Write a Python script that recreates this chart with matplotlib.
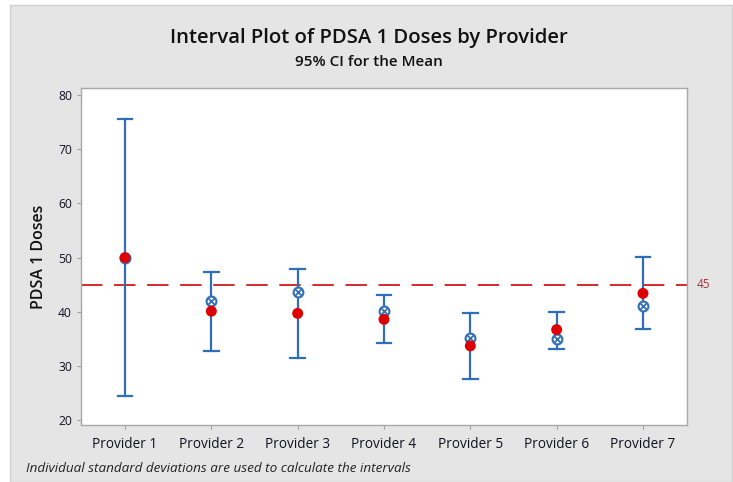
import matplotlib
matplotlib.use("Agg")
import matplotlib.pyplot as plt
from matplotlib.patches import Rectangle

# values (95% CI for the mean, PDSA 1 doses)
providers = ["Provider 1", "Provider 2", "Provider 3", "Provider 4",
             "Provider 5", "Provider 6", "Provider 7"]
ci_low = [24.5, 32.8, 31.4, 34.2, 27.5, 33.1, 36.8]
ci_high = [75.5, 47.4, 47.9, 43.1, 39.8, 40.0, 50.2]
mean_vals = [50.0, 42.0, 43.6, 40.2, 35.2, 35.0, 41.1]
red_vals = [50.0, 40.1, 39.7, 38.6, 33.7, 36.7, 43.4]
ref_line = 45
y_ticks = [20, 30, 40, 50, 60, 70, 80]

BLUE = "#2f6fb7"
RED = "#dd0000"
GRAY_BG = "#e5e5e5"
FONT = ["Open Sans", "DejaVu Sans"]

plt.rcParams["font.family"] = FONT

fig = plt.figure(figsize=(7.33, 4.82), dpi=100, facecolor="white")
# grey panel behind everything (Minitab-style)
fig.patches.append(Rectangle((10 / 733, 0), 722 / 733, 477 / 482,
                             transform=fig.transFigure, facecolor=GRAY_BG,
                             edgecolor="#cfcfcf", linewidth=1.0, zorder=-5))

ax = fig.add_axes([81 / 733, 57 / 482, 606 / 733, 337 / 482])
ax.set_facecolor("white")

x = list(range(1, len(providers) + 1))
for xi, lo, hi in zip(x, ci_low, ci_high):
    ax.plot([xi, xi], [lo, hi], color=BLUE, lw=1.6, zorder=2)
    for yv in (lo, hi):
        ax.plot([xi - 0.085, xi + 0.085], [yv, yv], color=BLUE, lw=1.6, zorder=2)

ax.scatter(x, mean_vals, s=50, facecolor="white", edgecolor=BLUE,
           linewidth=1.5, zorder=3)
ax.scatter(x, mean_vals, s=20, marker="x", color=BLUE, linewidth=1.3, zorder=3)
ax.scatter(x, red_vals, s=62, color=RED, edgecolor="none", zorder=4)

ax.axhline(ref_line, color="#d42a2a", lw=1.4, dashes=(11, 6), zorder=1)
ax.text(7.62, ref_line, str(ref_line), color="#a83232", fontsize=8.5,
        va="center", ha="left", clip_on=False)

ax.set_xlim(0.49, 7.51)
ax.set_ylim(19.1, 81.3)
ax.set_xticks(x)
ax.set_xticklabels(providers, fontsize=9.8, color="#111122")
ax.set_yticks(y_ticks)
ax.set_yticklabels([str(v) for v in y_ticks], fontsize=8.7, color="#111122")
ax.tick_params(axis="both", length=3, color="#a0a0a0", width=0.8)
ax.tick_params(axis="x", pad=6)
for sp in ax.spines.values():
    sp.set_color("#a8a8a8")
    sp.set_linewidth(1.0)

ax.set_ylabel("PDSA 1 Doses", fontsize=11.5, color="#111111", labelpad=8,
              fontweight="semibold")

fig.text(0.503, 1 - 38 / 482, "Interval Plot of PDSA 1 Doses by Provider",
         ha="center", va="center", fontsize=14.6, color="#111111",
         fontweight="semibold")
fig.text(0.503, 1 - 62 / 482, "95% CI for the Mean",
         ha="center", va="center", fontsize=11, color="#111111",
         fontweight="semibold")
fig.text(26 / 733, 1 - 468 / 482,
         "Individual standard deviations are used to calculate the intervals",
         ha="left", va="center", fontsize=9.7, style="italic", color="#222222")

fig.savefig("out.png", dpi=100, facecolor=fig.get_facecolor())
